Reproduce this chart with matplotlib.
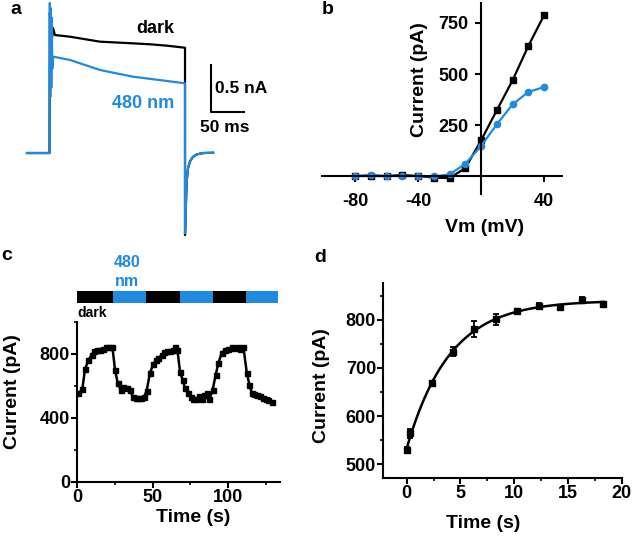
import numpy as np
import matplotlib
matplotlib.use("Agg")
import matplotlib.pyplot as plt
from matplotlib.ticker import MultipleLocator
from matplotlib.patches import Rectangle

plt.rcParams["font.family"] = ["Liberation Sans", "DejaVu Sans"]
plt.rcParams["font.weight"] = "bold"
plt.rcParams["axes.linewidth"] = 1.5
plt.rcParams["axes.unicode_minus"] = False

BLUE = "#1f8ae0"

# ---- panel a: current traces (ms, nA)
trace_dark_t = [0, 34.1, 34.6, 37.5, 39.4, 42.4, 65.2, 110.6, 160.6, 186.4, 212.1, 239.4,
                239.4, 240.5, 242, 244, 247, 251, 257, 267, 282]
trace_dark_i = [0, 0, 1.5, 1.2, 1.338, 1.263, 1.245, 1.192, 1.174, 1.164, 1.149, 1.127,
                -0.878, -0.6, -0.3, -0.16, -0.09, -0.045, -0.015, 0.0, 0.003]
trace_blue_t = [0, 34.1, 34.6, 35.3, 36.0, 36.8, 37.5, 38.3, 39.7, 42.4, 65.2, 110.6,
                160.6, 212.1, 239.4, 239.4, 240.5, 242, 244, 247, 251, 257, 267, 282]
trace_blue_i = [0, 0, 1.606, 0.6, 1.55, 0.7, 1.45, 0.9, 1.03, 1.028, 0.996, 0.889,
                0.817, 0.771, 0.746, -0.857, -0.6, -0.3, -0.16, -0.09, -0.045, -0.015,
                0.0, 0.003]

# ---- panel b: I-V curves
vm = [-80, -70, -60, -50, -40, -30, -20, -10, 0, 10, 20, 30, 40]
iv_dark = [0, 0, 0, 5, 0, -8, -10, 39, 175, 322, 469, 637, 788]
iv_blue = [0, 6, 0, 0, 0, -2, 8, 60, 147, 253, 351, 412, 436]

# ---- panel c: current during alternating dark / 480 nm
c_time = [0.9, 3.5, 5.3, 7.5, 9.7, 11.3, 13.0, 15.2, 17.4, 19.2, 21.4, 23.4, 25.2, 26.9,
          28.9, 30.7, 32.9, 35.1, 36.9, 38.9, 40.6, 42.4, 44.4, 46.1, 48.3, 50.6, 52.3,
          53.9, 56.1, 57.8, 59.8, 61.6, 63.4, 64.9, 66.5, 68.2, 70.0, 71.5, 73.7, 75.5,
          77.0, 78.8, 80.8, 82.6, 84.3, 85.9, 87.6, 89.8, 91.8, 93.6, 95.8, 98.0, 100.2,
          102.3, 104.2, 106.4, 108.2, 110.2, 112.4, 114.2, 115.7, 117.5, 119.5, 121.2,
          123.0, 125.0, 126.7, 128.9]
c_current = [552, 577, 702, 760, 792, 817, 823, 823, 827, 840, 844, 844, 698, 619,
             573, 590, 584, 573, 531, 521, 521, 521, 531, 567, 681, 735, 760,
             771, 792, 808, 815, 815, 823, 840, 823, 688, 635, 584, 552, 531,
             517, 517, 535, 515, 542, 552, 515, 573, 667, 740, 806, 823, 829,
             840, 833, 840, 827, 840, 681, 604, 556, 548, 542, 535,
             525, 517, 510, 500]
dark_periods = [(0, 24), (46, 68), (90, 112)]
light_periods = [(24, 46), (68, 90), (112, 133)]

# ---- panel d: mean current vs time with error bars
d_time = [0.06, 0.3, 2.36, 4.35, 6.3, 8.3, 10.3, 12.35, 14.3, 16.3, 18.3]
d_current = [530, 564, 668, 734, 781, 801, 819, 829, 826, 842, 833]
d_err = [5, 10, 3, 10, 16, 11, 4, 6, 4, 6, 3]

W, H = 633, 538
fig = plt.figure(figsize=(W / 100, H / 100), dpi=100)


def box(left, top, right, bottom):
    return [left / W, 1 - bottom / H, (right - left) / W, (bottom - top) / H]


def ftext(x, y, s, **kw):
    kw.setdefault("ha", "center")
    kw.setdefault("va", "center")
    fig.text(x / W, 1 - y / H, s, **kw)


# ---------------- a
ax_a = fig.add_axes(box(20, 0, 300, 240))
ax_a.set_xlim(-10.6, 413.6)
ax_a.set_ylim(-0.931, 1.638)
ax_a.axis("off")
ax_a.plot(trace_dark_t, trace_dark_i, color="black", lw=1.6)
ax_a.plot(trace_blue_t, trace_blue_i, color=BLUE, lw=1.6)
ax_a.plot([278.8, 278.8, 328.8], [0.942, 0.442, 0.442], color="black", lw=1.5)
ax_a.text(194, 1.338, "dark", fontsize=13, ha="center", va="center")
ax_a.text(175.8, 0.535, "480 nm", fontsize=13, color=BLUE, ha="center", va="center")
ax_a.text(284.5, 0.696, "0.5 nA", fontsize=12.5, ha="left", va="center")
ax_a.text(262, 0.278, "50 ms", fontsize=12.5, ha="left", va="center")

# ---------------- b
ax_b = fig.add_axes(box(322, 3, 562, 194))
ax_b.plot(vm, iv_dark, color="black", lw=1.6, marker="s", ms=4)
ax_b.plot(vm, iv_blue, color=BLUE, lw=1.6, marker="o", ms=4.5)
ax_b.set_xlim(-101, 51.4)
ax_b.set_ylim(-88, 848)
ax_b.spines["left"].set_position(("data", 0))
ax_b.spines["bottom"].set_position(("data", 0))
ax_b.spines["top"].set_visible(False)
ax_b.spines["right"].set_visible(False)
ax_b.set_xticks([-80, -40, 40])
ax_b.set_yticks([250, 500, 750])
ax_b.tick_params(axis="x", length=4, width=1.5, pad=8, labelsize=13)
ax_b.tick_params(axis="y", length=4, width=1.5, pad=5, labelsize=13)
ftext(419, 80, "Current (pA)", fontsize=14, rotation=90)
ftext(485, 227, "Vm (mV)", fontsize=14)

# ---------------- c
ax_c = fig.add_axes(box(77, 321.7, 280, 481.7))
ax_c.plot(c_time, c_current, color="black", lw=1.8, marker="s", ms=3.6)
ax_c.set_xlim(0, 134.4)
ax_c.set_ylim(0, 1000)
for s in ["top", "right"]:
    ax_c.spines[s].set_visible(False)
ax_c.set_xticks([0, 50, 100])
ax_c.set_yticks([0, 400, 800])
ax_c.xaxis.set_minor_locator(MultipleLocator(25))
ax_c.yaxis.set_minor_locator(MultipleLocator(200))
ax_c.tick_params(which="major", length=4, width=1.5, pad=1, labelsize=13)
ax_c.tick_params(which="minor", length=2.5, width=1.2)
tr = ax_c.get_xaxis_transform()
for a, b in dark_periods:
    ax_c.add_patch(Rectangle((a, 1.117), b - a, 0.075, transform=tr, color="black",
                             clip_on=False, lw=0))
for a, b in light_periods:
    ax_c.add_patch(Rectangle((a, 1.117), b - a, 0.075, transform=tr, color=BLUE,
                             clip_on=False, lw=0))
ax_c.text(33, 1.31, "480\nnm", transform=tr, color=BLUE, fontsize=11.5, ha="center",
          va="center", linespacing=1.3)
ax_c.text(0.5, 1.054, "dark", transform=tr, fontsize=10, ha="left", va="center")
ftext(13, 392, "Current (pA)", fontsize=14, rotation=90)
ftext(193, 517, "Time (s)", fontsize=14)

# ---------------- d
ax_d = fig.add_axes(box(383, 283.3, 621.7, 477.7))
# single-exponential fit of the points: grid over tau, linear least squares for A, B
t_arr = np.array(d_time)
y_arr = np.array(d_current)
best = None
for tau in np.linspace(1, 10, 901):
    M = np.column_stack([np.ones_like(t_arr), -np.exp(-t_arr / tau)])
    coef, *_ = np.linalg.lstsq(M, y_arr, rcond=None)
    res = np.sum((M @ coef - y_arr) ** 2)
    if best is None or res < best[0]:
        best = (res, tau, coef)
_, tau, (A, B) = best
tt = np.linspace(0, 18.3, 200)
ax_d.plot(tt, A - B * np.exp(-tt / tau), color="black", lw=1.8)
ax_d.errorbar(d_time, d_current, yerr=d_err, fmt="s", color="black", ms=4,
              elinewidth=1.3, capsize=2.5, capthick=1.3)
ax_d.set_xlim(-2.2, 20)
ax_d.set_ylim(472, 876)
for s in ["top", "right"]:
    ax_d.spines[s].set_visible(False)
ax_d.set_xticks([0, 5, 10, 15, 20])
ax_d.set_yticks([500, 600, 700, 800])
ax_d.xaxis.set_minor_locator(MultipleLocator(2.5))
ax_d.yaxis.set_minor_locator(MultipleLocator(50))
ax_d.tick_params(which="major", length=4, width=1.5, pad=1, labelsize=13)
ax_d.tick_params(which="minor", length=2.5, width=1.2)
ftext(322, 386, "Current (pA)", fontsize=14, rotation=90)
ftext(483, 523, "Time (s)", fontsize=14)

# panel letters
ftext(16, 9, "a", fontsize=14)
ftext(328, 9, "b", fontsize=14)
ftext(7, 255, "c", fontsize=14)
ftext(320, 258, "d", fontsize=14)

fig.savefig("out.png", dpi=100)
